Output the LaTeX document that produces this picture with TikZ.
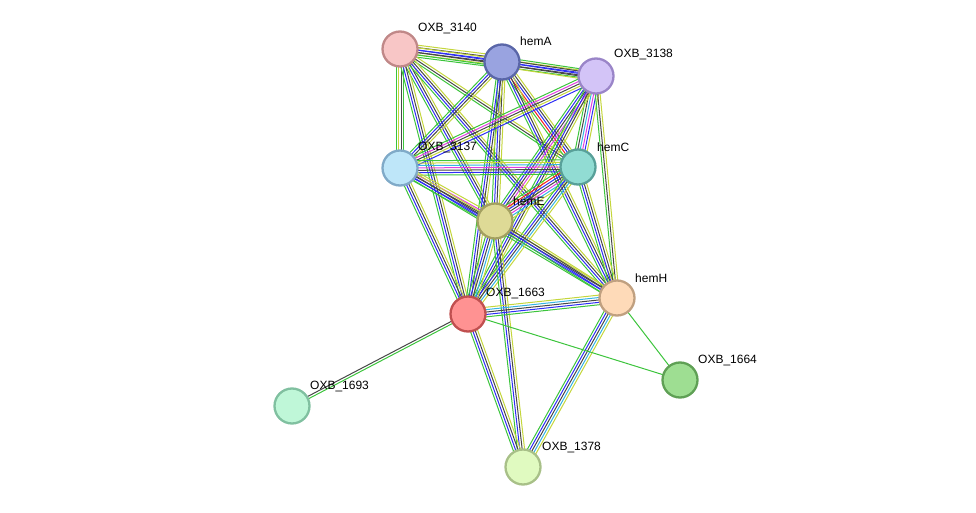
\documentclass[tikz,border=0pt]{standalone}
\usepackage{fontspec}
\setmainfont{Liberation Sans}
\usetikzlibrary{calc,backgrounds}
\definecolor{eG}{HTML}{3CC43C}
\definecolor{eB}{HTML}{2E2EF5}
\definecolor{eK}{HTML}{474747}
\definecolor{eY}{HTML}{C4D63C}
\definecolor{eM}{HTML}{E040E0}
\definecolor{eC}{HTML}{34B4E4}
\definecolor{eR}{HTML}{F52020}
\newcommand\bundle[4]{%
  \foreach \cc [count=\ii] in {#4} {%
    \pgfmathsetmacro\oo{(\ii-(#3+1)/2)*2.4}%
    \draw[\cc, line width=1pt] ($(#1.center)!\oo pt!90:(#2.center)$) -- ($(#2.center)!\oo pt!-90:(#1.center)$);
  }%
}
\tikzset{
  protein/.style={circle, minimum size=35pt, inner sep=0pt, line width=2.3pt},
  lbl/.style={anchor=west, inner sep=0pt, text=black, font=\fontsize{12}{14}\selectfont}
}
\begin{document}
\begin{tikzpicture}[x=1pt,y=-1pt]
\useasboundingbox (0,0) rectangle (976,513);
\node[protein, fill={rgb,255:red,248;green,198;blue,198}, draw={rgb,255:red,192;green,136;blue,136}] (n3140) at (400,49) {};
\node[protein, fill={rgb,255:red,153;green,163;blue,224}, draw={rgb,255:red,90;green,102;blue,168}] (hemA) at (502,62) {};
\node[protein, fill={rgb,255:red,211;green,196;blue,247}, draw={rgb,255:red,154;green,133;blue,200}] (n3138) at (596,76) {};
\node[protein, fill={rgb,255:red,190;green,230;blue,249}, draw={rgb,255:red,128;green,170;blue,200}] (n3137) at (400,168) {};
\node[protein, fill={rgb,255:red,145;green,220;blue,211}, draw={rgb,255:red,88;green,160;blue,153}] (hemC) at (578,167) {};
\node[protein, fill={rgb,255:red,222;green,218;blue,150}, draw={rgb,255:red,163;green,160;blue,96}] (hemE) at (495,221) {};
\node[protein, fill={rgb,255:red,254;green,218;blue,184}, draw={rgb,255:red,192;green,160;blue,128}] (hemH) at (617,298) {};
\node[protein, fill={rgb,255:red,255;green,146;blue,146}, draw={rgb,255:red,192;green,80;blue,80}] (n1663) at (468,314) {};
\node[protein, fill={rgb,255:red,158;green,222;blue,146}, draw={rgb,255:red,95;green,160;blue,85}] (n1664) at (680,380) {};
\node[protein, fill={rgb,255:red,191;green,247;blue,216}, draw={rgb,255:red,128;green,192;blue,160}] (n1693) at (292,406) {};
\node[protein, fill={rgb,255:red,224;green,250;blue,192}, draw={rgb,255:red,168;green,192;blue,136}] (n1378) at (523,467) {};
\node[lbl] (l3140) at ($(n3140)+(18,-20)$) {OXB\_3140};
\node[lbl] (lhemA) at ($(hemA)+(18,-21)$) {hemA};
\node[lbl] (l3138) at ($(n3138)+(18,-21)$) {OXB\_3138};
\node[lbl] (l3137) at ($(n3137)+(18,-20)$) {OXB\_3137};
\node[lbl] (lhemC) at ($(hemC)+(19,-20)$) {hemC};
\node[lbl] (lhemE) at ($(hemE)+(18,-20)$) {hemE};
\node[lbl] (lhemH) at ($(hemH)+(18,-20)$) {hemH};
\node[lbl] (l1663) at ($(n1663)+(18,-20)$) {OXB\_1663};
\node[lbl] (l1664) at ($(n1664)+(18,-20)$) {OXB\_1664};
\node[lbl] (l1693) at ($(n1693)+(18,-20)$) {OXB\_1693};
\node[lbl] (l1378) at ($(n1378)+(19,-20)$) {OXB\_1378};
\begin{pgfonlayer}{background}
\bundle{n3140}{hemA}{6}{eG,eY,eK,eB,eK,eY}
\bundle{n3140}{n3138}{4}{eG,eK,eB,eY}
\bundle{hemA}{n3138}{5}{eY,eK,eB,eK,eG}
\bundle{n3140}{n3137}{4}{eG,eY,eK,eG}
\bundle{n3140}{hemC}{3}{eG,eK,eY}
\bundle{n3140}{hemE}{4}{eG,eB,eK,eY}
\bundle{n3140}{n1663}{4}{eG,eB,eK,eY}
\bundle{n3140}{hemH}{4}{eG,eB,eK,eY}
\bundle{hemA}{n3137}{4}{eG,eB,eK,eY}
\bundle{hemA}{hemC}{5}{eG,eR,eB,eK,eY}
\bundle{hemA}{hemE}{4}{eG,eB,eK,eY}
\bundle{hemA}{n1663}{4}{eG,eB,eK,eY}
\bundle{hemA}{hemH}{4}{eG,eB,eK,eY}
\bundle{n3138}{n3137}{5}{eG,eM,eK,eY,eB}
\bundle{n3138}{hemC}{6}{eG,eK,eC,eM,eB,eY}
\bundle{n3138}{hemE}{5}{eG,eB,eK,eM,eY}
\bundle{n3138}{n1663}{4}{eG,eB,eK,eY}
\bundle{n3138}{hemH}{3}{eG,eK,eY}
\bundle{n3137}{hemC}{7}{eG,eB,eK,eM,eC,eY,eG}
\bundle{n3137}{hemE}{5}{eG,eB,eK,eM,eY}
\bundle{n3137}{n1663}{4}{eG,eB,eK,eY}
\bundle{n3137}{hemH}{4}{eG,eB,eK,eY}
\bundle{hemC}{hemE}{7}{eG,eR,eB,eK,eM,eC,eY}
\bundle{hemC}{n1663}{5}{eG,eB,eK,eC,eY}
\bundle{hemC}{hemH}{4}{eG,eB,eK,eY}
\bundle{hemE}{n1663}{5}{eG,eB,eK,eC,eY}
\bundle{hemE}{hemH}{4}{eG,eB,eK,eY}
\bundle{hemE}{n1378}{4}{eG,eB,eK,eY}
\bundle{n1663}{hemH}{5}{eG,eB,eK,eC,eY}
\bundle{n1663}{n1378}{4}{eG,eB,eK,eY}
\bundle{hemH}{n1378}{5}{eG,eB,eK,eC,eY}
\bundle{n1663}{n1693}{2}{eK,eG}
\bundle{n1663}{n1664}{1}{eG}
\bundle{hemH}{n1664}{1}{eG}
\end{pgfonlayer}
\end{tikzpicture}
\end{document}
